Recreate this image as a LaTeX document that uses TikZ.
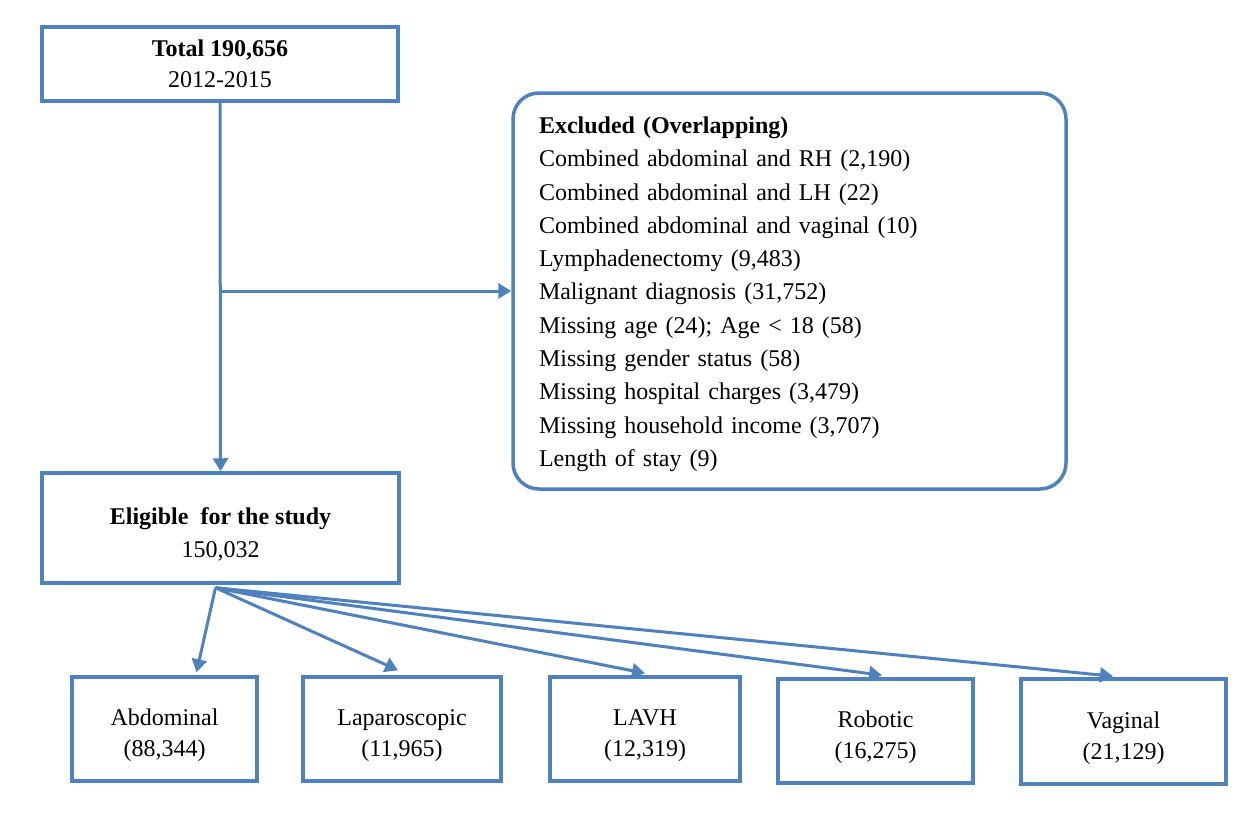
\documentclass[tikz,border=0pt]{standalone}
\usepackage{fontspec}
\setmainfont{Liberation Serif}
\usetikzlibrary{arrows.meta,calc}
\definecolor{ob}{RGB}{79,129,189}
\newcommand{\dn}{\rule{0pt}{30pt}}
\begin{document}
\begin{tikzpicture}[x=1pt,y=-1pt,
  box/.style={draw=ob,line width=3.5pt,rectangle,align=center,inner sep=0pt,
    font=\fontsize{24}{31}\selectfont},
  arr/.style={draw=ob,line width=3pt,-{Triangle[length=13pt,width=15pt]}}]
\useasboundingbox[fill=white] (0,0) rectangle (1258,816);

\node[box,minimum width=356pt,minimum height=74pt] (top) at (220,64)
  {\textbf{Total 190,656}\\2012-2015};
\node[box,minimum width=357pt,minimum height=110pt,
  font=\fontsize{24}{33}\selectfont] (elig) at (220.5,528)
  {\dn\textbf{Eligible\ \ for the study}\\150,032};
\node[box,rounded corners=26pt,align=left,text width=501pt,inner xsep=26pt,
  minimum height=396pt,font=\fontsize{24}{33.3}\selectfont] (excl) at (789.5,291)
  {\rule{0pt}{23pt}\textbf{Excluded (Overlapping)}\\
   Combined abdominal\ and RH (2,190)\\
   Combined abdominal\ and LH (22)\\
   Combined abdominal\ and vaginal (10)\\
   Lymphadenectomy\ (9,483)\\
   Malignant\ diagnosis (31,752)\\
   Missing age (24); Age < 18 (58)\\
   Missing gender status (58)\\
   Missing hospital charges (3,479)\\
   Missing household income (3,707)\\
   Length of stay (9)};

\node[box,minimum width=185pt,minimum height=104pt] (abd) at (164.5,729)
  {\dn Abdominal\\(88,344)};
\node[box,minimum width=198pt,minimum height=104pt] (lap) at (402,729)
  {\dn Laparoscopic\\(11,965)};
\node[box,minimum width=190pt,minimum height=104pt] (lavh) at (645,729)
  {\dn LAVH\\(12,319)};
\node[box,minimum width=195pt,minimum height=104pt] (rob) at (875.5,731)
  {\dn Robotic\\(16,275)};
\node[box,minimum width=205pt,minimum height=105pt] (vag) at (1123.5,731.5)
  {\dn Vaginal\\(21,129)};

\draw[arr] (top.south) -- (elig.north);
\draw[arr] (top.south |- 0,291) -- (excl.west);

\coordinate (fan) at ($(elig.south)+(-5,3)$);
\draw[arr] (fan) -- ($(abd.north)+(32,-3)$);
\draw[arr] (fan) -- ($(lap.north)+(-4,-5)$);
\draw[arr] (fan) -- ($(lavh.north)+(0,-2)$);
\draw[arr] (fan) -- ($(rob.north)+(6.5,-2)$);
\draw[arr] (fan) -- ($(vag.north)+(-10.5,-1)$);
\end{tikzpicture}
\end{document}
